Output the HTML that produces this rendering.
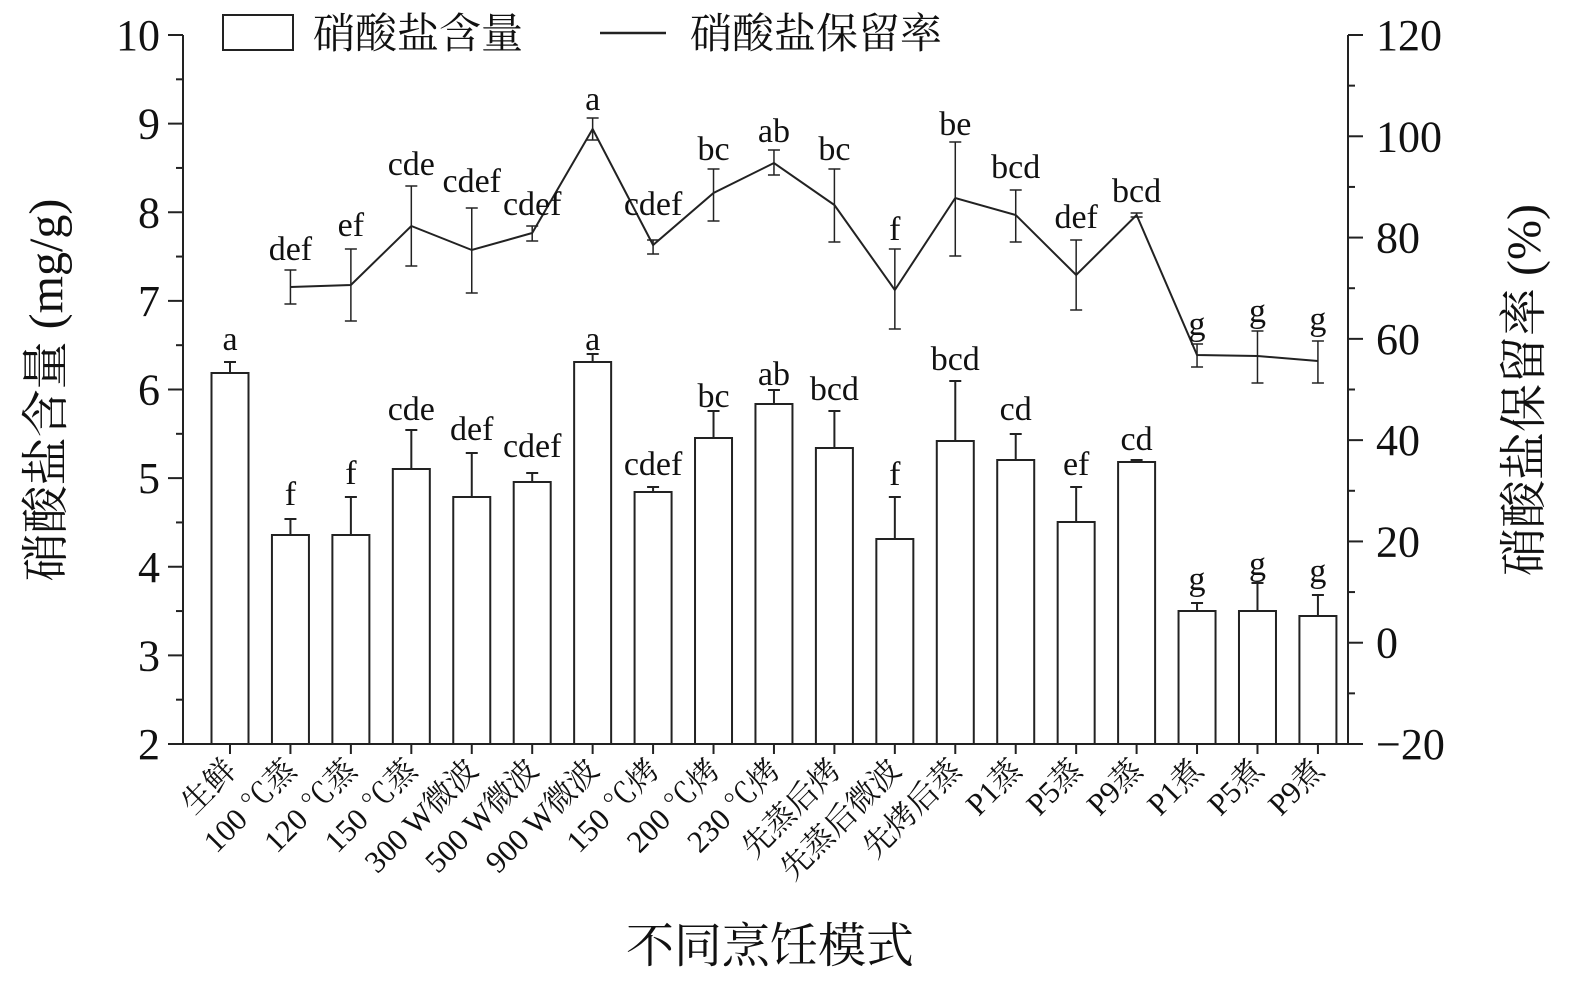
<!DOCTYPE html>
<html><head><meta charset="utf-8"><style>body{margin:0;background:#fff}svg{display:block}text{font-family:"Liberation Serif","Noto Serif CJK SC",serif;fill:#111}</style></head><body>
<svg width="1575" height="984" viewBox="0 0 1575 984" xmlns="http://www.w3.org/2000/svg">
<g stroke="#222" stroke-width="2" fill="none">
<line x1="183" y1="35" x2="183" y2="744"/>
<line x1="1348" y1="35" x2="1348" y2="744"/>
<line x1="183" y1="744" x2="1348" y2="744"/>
</g>
<g id="ticks" stroke="#222" stroke-width="2"></g>
<g id="bars"></g>
<g id="line"></g>
<g id="lbl" font-size="34" text-anchor="middle"></g>
<g font-size="44" text-anchor="end" id="yl"></g>
<g font-size="44" text-anchor="start" id="yr"></g>
<g id="xl" font-size="31"></g>
<text x="770" y="962" font-size="48" text-anchor="middle">不同烹饪模式</text>
<text transform="translate(62,390) rotate(-90)" font-size="48" text-anchor="middle">硝酸盐含量 (mg/g)</text>
<text transform="translate(1540,390) rotate(-90)" font-size="48" text-anchor="middle">硝酸盐保留率 (%)</text>
<rect x="223" y="15" width="70" height="35" fill="#fff" stroke="#222" stroke-width="2"/>
<text x="313" y="48" font-size="42">硝酸盐含量</text>
<line x1="600" y1="33" x2="666" y2="33" stroke="#222" stroke-width="2.5"/>
<text x="690" y="48" font-size="42">硝酸盐保留率</text>
<script>
const ns="http://www.w3.org/2000/svg";
function el(p,t,a,txt){const e=document.createElementNS(ns,t);for(const k in a)e.setAttribute(k,a[k]);if(txt!==undefined)e.textContent=txt;document.getElementById(p).appendChild(e);}
const yv=v=>744-(v-2)*88.625;
for(let v=2;v<=10;v+=0.5){const y=yv(v);el('ticks','line',{x1:183,x2:v%1?176:168,y1:y,y2:y});}
for(let v=2;v<=10;v++)el('yl','text',{x:160,y:yv(v)+15},String(v));
const yr=p=>744-(p+20)*709/140;
for(let p=-20;p<=120;p+=10){const y=yr(p);el('ticks','line',{x1:1348,x2:p%20?1355:1363,y1:y,y2:y});}
for(let p=-20;p<=120;p+=20)el('yr','text',{x:1376,y:yr(p)+15},p<0?"\u2212"+(-p):String(p));
const X=i=>230+i*60.44;
const bt=[373,535,535,469,497,482,362,492,438,404,448,539,441,460,522,462,611,611,616];
const be=[362,519,497,430,453,473,354,487,411,390,411,497,381,434,487,460,603,583,595];
const names=["生鲜","100 ℃蒸","120 ℃蒸","150 ℃蒸","300 W微波","500 W微波","900 W微波","150 ℃烤","200 ℃烤","230 ℃烤","先蒸后烤","先蒸后微波","先烤后蒸","P1蒸","P5蒸","P9蒸","P1煮","P5煮","P9煮"];
const bl=[["a",350],["f",505],["f",484],["cde",420],["def",440],["cdef",457],["a",350],["cdef",475],["bc",407],["ab",385],["bcd",400],["f",485],["bcd",370],["cd",420],["ef",475],["cd",450],["g",590],["g",575],["g",582]];
for(let i=0;i<19;i++){const x=X(i);
el('bars','line',{x1:x,x2:x,y1:bt[i],y2:be[i],stroke:"#222","stroke-width":2});
el('bars','line',{x1:x-6,x2:x+6,y1:be[i],y2:be[i],stroke:"#222","stroke-width":2});
el('bars','rect',{x:x-18.5,y:bt[i],width:37,height:744-bt[i],fill:"#fff",stroke:"#222","stroke-width":2});
el('ticks','line',{x1:x,x2:x,y1:744,y2:754});
el('lbl','text',{x:x,y:bl[i][1]},bl[i][0]);
el('xl','text',{x:x+8,y:772,"text-anchor":"end",transform:`rotate(-45 ${x+8} 772)`},names[i]);
}
const lp=[287,285,226,250,233,129,245,193,163,205,290,198,215,275,215,355,356,361];
const le=[[270,304],[249,321],[186,266],[208,293],[226,241],[118,140],[240,254],[169,221],[150,175],[169,242],[249,329],[142,256],[190,242],[240,310],[213,217],[344,367],[331,383],[341,383]];
const ll=[["def",260],["ef",236],["cde",175],["cdef",192],["cdef",215],["a",110],["cdef",215],["bc",160],["ab",142],["bc",160],["f",240],["be",135],["bcd",178],["def",228],["bcd",202],["g",335],["g",322],["g",330]];
let pts=[];
for(let j=0;j<18;j++){const x=X(j+1);pts.push(x+","+lp[j]);
el('line','line',{x1:x,x2:x,y1:le[j][0],y2:le[j][1],stroke:"#222","stroke-width":1.5});
el('line','line',{x1:x-6,x2:x+6,y1:le[j][0],y2:le[j][0],stroke:"#222","stroke-width":1.5});
el('line','line',{x1:x-6,x2:x+6,y1:le[j][1],y2:le[j][1],stroke:"#222","stroke-width":1.5});
el('lbl','text',{x:x,y:ll[j][1]},ll[j][0]);}
el('line','polyline',{points:pts.join(" "),fill:"none",stroke:"#222","stroke-width":2});
</script>
</svg>
</body></html>
